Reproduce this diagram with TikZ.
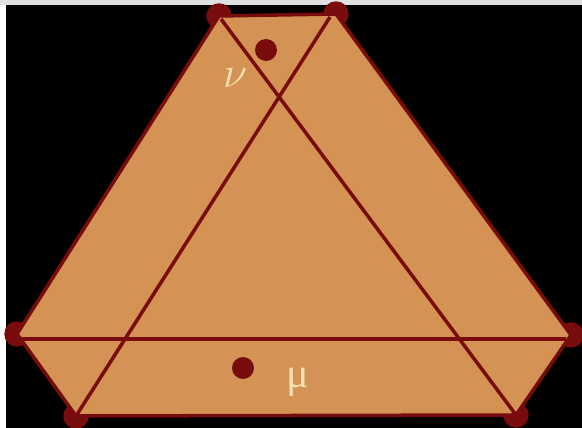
\documentclass[tikz,border=0pt]{standalone}
\usepackage{fontspec}
\usepackage{tikz}
\usetikzlibrary{positioning,calc}
\newfontfamily\greekfont{Liberation Serif}
\definecolor{cardtan}{RGB}{212,147,84}
\definecolor{rimred}{RGB}{120,12,12}
\definecolor{chalk}{RGB}{242,224,176}
\tikzset{
  rim/.style={draw=rimred,line width=2pt,line join=round},
  chord/.style={draw=rimred,line width=2pt},
  vdot/.style={circle,fill=rimred,minimum size=14.5pt,inner sep=0pt},
  mdot/.style={circle,fill=rimred,minimum size=12.5pt,inner sep=0pt},
  glabel/.style={text=chalk,inner sep=0pt}
}

\begin{document}
\begin{tikzpicture}[x=0.02cm,y=-0.02cm]
\useasboundingbox (0,0) rectangle (582,428);
\fill[white] (0,0) rectangle (582,428);
\fill[black!12] (0,0) rectangle (582,5);
\fill[black] (6,5) rectangle (582,428);

% corners of the truncated triangle
\coordinate (A) at (219,16);
\coordinate (B) at (336,14);
\coordinate (C) at (571,335);
\coordinate (D) at (516,415);
\coordinate (E) at (76,416);
\coordinate (F) at (17,334);

\foreach \v in {A,B,C,D,E,F}
  \node[vdot] (dot\v) at (\v) {};

\fill[cardtan] (A) -- (B) -- (C) -- (D) -- (E) -- (F) -- cycle;
\draw[rim] (A) -- (B) -- (C) -- (D) -- (E) -- (F) -- cycle;

% the three cuts
\draw[chord] ($(A)+(2,3)$) -- (D);
\draw[chord] ($(B)+(-6,3)$) -- (E);
\draw[chord] ($(F)+(4,5)$) -- ($(C)+(-5,4)$);

\node[mdot] (nudot) at (266,50) {};
\node[mdot] (mudot) at (243,368) {};
\node[glabel] (nu) at (235,78) {\fontsize{29}{30}\selectfont$\nu$};
\node[glabel] (mu) at (298,382) {\fontsize{24}{26}\selectfont\greekfont μ};
\end{tikzpicture}
\end{document}
